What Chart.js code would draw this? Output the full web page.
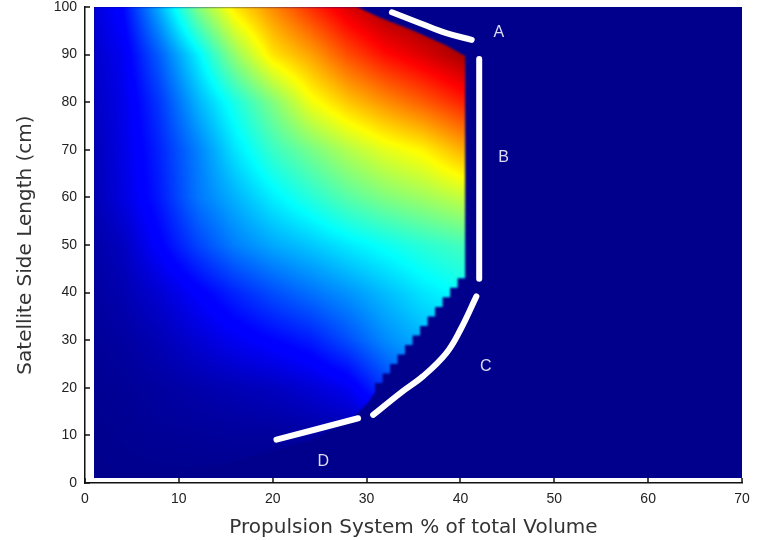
<!DOCTYPE html>
<html>
<head>
<meta charset="utf-8">
<script src="https://cdn.jsdelivr.net/npm/chart.js@4.4.1/dist/chart.umd.min.js"></script>
<style>
body { margin: 0; background: #fff; }
</style>
</head>
<body>
<canvas id="myChart" width="759" height="540"></canvas>
<script>

// colour map grid (0..1 on the jet scale)
var heatX = [0, 4, 8, 12, 16, 20, 24, 28, 32, 36, 40, 44];
var heatY = [0, 10, 20, 30, 40, 50, 60, 70, 80, 90, 100];
var heatV = [
    [0, 0, 0, 0, 0, 0, 0, 0.005, 0.01, 0.02, 0.03, 0.03],
    [0, 0.005, 0.01, 0.012, 0.015, 0.015, 0.02, 0.025, 0.04, 0.08, 0.1, 0.1],
    [0.005, 0.01, 0.02, 0.03, 0.04, 0.05, 0.07, 0.1, 0.18, 0.25, 0.27, 0.28],
    [0.01, 0.02, 0.04, 0.07, 0.1, 0.125, 0.15, 0.2, 0.26, 0.3, 0.32, 0.33],
    [0.015, 0.035, 0.07, 0.115, 0.16, 0.2, 0.235, 0.27, 0.31, 0.35, 0.38, 0.39],
    [0.02, 0.05, 0.12, 0.19, 0.25, 0.29, 0.32, 0.355, 0.385, 0.415, 0.44, 0.45],
    [0.025, 0.08, 0.15, 0.24, 0.3, 0.36, 0.41, 0.46, 0.5, 0.53, 0.565, 0.58],
    [0.03, 0.085, 0.16, 0.25, 0.35, 0.43, 0.49, 0.55, 0.6, 0.635, 0.7, 0.72],
    [0.04, 0.09, 0.18, 0.3, 0.4, 0.5, 0.61, 0.68, 0.735, 0.785, 0.84, 0.86],
    [0.05, 0.1, 0.22, 0.36, 0.52, 0.65, 0.715, 0.8, 0.865, 0.91, 0.96, 0.97],
    [0.06, 0.125, 0.3, 0.5, 0.65, 0.74, 0.83, 0.91, 0.97, 1, 1, 1]
];

// extent of the image
var imageX = [1, 70];
var imageY = [1, 100];

// edge of the coloured region
var topEdge = [[29, 100], [31.4, 97.8], [35, 95], [38.5, 91.9], [40.5, 89.7]];
var sideEdgeX = 40.5;
var stepTopY = [43, 41, 39, 37, 35, 33, 31, 29, 27, 25, 23, 21];
var stepX = [39.7, 38.9, 38.1, 37.3, 36.5, 35.7, 34.9, 34.1, 33.3, 32.5, 31.7, 30.9];
var lowEdge = [[30.9, 19], [30.2, 17], [28.5, 13.5], [24, 9], [15, 4], [1, 1]];

// white marks and their letters
var curveA = [[32.7, 98.9], [35.7, 96.6], [38.5, 94.5], [41.2, 93.1]];
var curveB = [[42, 89.1], [42, 42.9]];
var curveC = [[41.7, 39.2], [40, 32.2], [38.5, 27.3], [36, 22.4], [33.6, 18.9], [30.7, 14.3]];
var curveD = [[20.4, 9.1], [29.1, 13.6]];
var markText = ['A', 'B', 'C', 'D'];
var markX = [44.1, 44.6, 42.7, 25.4];
var markY = [94.7, 68.4, 24.4, 4.6];

function clamp01(v) {
    return Math.max(0, Math.min(1, v));
}

function jet(v) {
    v = clamp01(v);
    var r = Math.min(4 * v - 1.5, -4 * v + 4.5);
    var g = Math.min(4 * v - 0.5, -4 * v + 3.5);
    var b = Math.min(4 * v + 0.55, -4 * v + 2.5);
    return [Math.round(clamp01(r) * 255), Math.round(clamp01(g) * 255), Math.round(clamp01(b) * 255)];
}

function findCell(arr, v) {
    for (var k = 0; k < arr.length - 2; k++) {
        if (v < arr[k + 1]) return k;
    }
    return arr.length - 2;
}

function gridValue(x, y) {
    var i = findCell(heatX, x), j = findCell(heatY, y);
    var tx = clamp01((x - heatX[i]) / (heatX[i + 1] - heatX[i]));
    var ty = clamp01((y - heatY[j]) / (heatY[j + 1] - heatY[j]));
    var a = heatV[j][i] * (1 - tx) + heatV[j][i + 1] * tx;
    var b = heatV[j + 1][i] * (1 - tx) + heatV[j + 1][i + 1] * tx;
    return a * (1 - ty) + b * ty;
}

var heatmapPlugin = {
    id: 'heatmap',
    beforeDatasetsDraw: function(chart) {
        var ctx = chart.ctx, sx = chart.scales.x, sy = chart.scales.y;
        var left = Math.round(sx.getPixelForValue(imageX[0]));
        var right = Math.round(sx.getPixelForValue(imageX[1]));
        var top = Math.round(sy.getPixelForValue(imageY[1]));
        var bottom = Math.round(sy.getPixelForValue(imageY[0]));
        var c0 = jet(0);
        var w = right - left, h = bottom - top;

        ctx.save();
        ctx.fillStyle = 'rgb(' + c0.join(',') + ')';
        ctx.fillRect(left, top, w, h);

        // smooth field, pixel by pixel from the grid
        var off = document.createElement('canvas');
        off.width = w;
        off.height = h;
        var octx = off.getContext('2d');
        var img = octx.createImageData(w, h);
        for (var j = 0; j < h; j++) {
            var yv = sy.getValueForPixel(top + j + 0.5);
            for (var i = 0; i < w; i++) {
                var xv = sx.getValueForPixel(left + i + 0.5);
                var c = jet(gridValue(xv, yv));
                var p = (j * w + i) * 4;
                img.data[p] = c[0];
                img.data[p + 1] = c[1];
                img.data[p + 2] = c[2];
                img.data[p + 3] = 255;
            }
        }
        octx.putImageData(img, 0, 0);

        // keep only the coloured region
        var masked = document.createElement('canvas');
        masked.width = w;
        masked.height = h;
        var mctx = masked.getContext('2d');
        function px(v) { return sx.getPixelForValue(v) - left; }
        function py(v) { return sy.getPixelForValue(v) - top; }
        mctx.beginPath();
        mctx.moveTo(px(1), py(1));
        mctx.lineTo(px(1), py(100));
        topEdge.forEach(function(p) { mctx.lineTo(px(p[0]), py(p[1])); });
        mctx.lineTo(px(sideEdgeX), py(stepTopY[0]));
        for (var k = 0; k < stepX.length; k++) {
            mctx.lineTo(px(stepX[k]), py(stepTopY[k]));
            mctx.lineTo(px(stepX[k]), py(stepTopY[k] - 2));
        }
        lowEdge.forEach(function(p) { mctx.lineTo(px(p[0]), py(p[1])); });
        mctx.closePath();
        mctx.clip();
        mctx.drawImage(off, 0, 0);

        ctx.beginPath();
        ctx.rect(left, top, w, h);
        ctx.clip();
        ctx.filter = 'blur(0.8px)';
        ctx.drawImage(masked, left, top);
        ctx.restore();
    },
    afterDatasetsDraw: function(chart) {
        var ctx = chart.ctx, sx = chart.scales.x, sy = chart.scales.y;
        ctx.save();
        ctx.fillStyle = '#dcdcf2';
        ctx.font = '16px "Liberation Sans", Arial, sans-serif';
        ctx.textAlign = 'center';
        ctx.textBaseline = 'middle';
        for (var k = 0; k < markText.length; k++) {
            ctx.fillText(markText[k], sx.getPixelForValue(markX[k]), sy.getPixelForValue(markY[k]));
        }
        ctx.restore();
    },
    afterDraw: function(chart) {
        // inward tick marks
        var ctx = chart.ctx, sx = chart.scales.x, sy = chart.scales.y;
        var x0 = chart.chartArea.left, y0 = chart.chartArea.bottom;
        ctx.save();
        ctx.strokeStyle = '#111';
        ctx.lineWidth = 1.5;
        ctx.beginPath();
        sx.ticks.forEach(function(t) {
            var p = Math.round(sx.getPixelForValue(t.value));
            ctx.moveTo(p, y0);
            ctx.lineTo(p, y0 - 5);
        });
        sy.ticks.forEach(function(t) {
            var p = Math.round(sy.getPixelForValue(t.value));
            ctx.moveTo(x0, p);
            ctx.lineTo(x0 + 5, p);
        });
        ctx.stroke();
        ctx.restore();
    }
};

function toPoints(arr) {
    return arr.map(function(p) { return {x: p[0], y: p[1]}; });
}

function markLine(arr) {
    return {
        data: toPoints(arr),
        showLine: true,
        borderColor: '#ffffff',
        borderWidth: 6,
        borderCapStyle: 'round',
        borderJoinStyle: 'round',
        pointRadius: 0,
        tension: 0.4,
        fill: false
    };
}

var tickFont = { family: '"Liberation Sans", Arial, sans-serif', size: 14 };
var titleFont = { family: '"DejaVu Sans", sans-serif', size: 20 };

var ctx = document.getElementById('myChart').getContext('2d');
var chart = new Chart(ctx, {
    type: 'scatter',
    data: {
        datasets: [markLine(curveA), markLine(curveB), markLine(curveC), markLine(curveD)]
    },
    options: {
        responsive: false,
        animation: false,
        layout: { padding: { top: 7, right: 17, left: 0, bottom: 0 } },
        plugins: {
            legend: { display: false },
            tooltip: { enabled: false }
        },
        scales: {
            x: {
                type: 'linear',
                min: 0,
                max: 70,
                afterFit: function(s) {
                    s.height = 57;
                    s.paddingLeft = 0;
                    s.paddingRight = 0;
                },
                grid: { display: false, drawTicks: false },
                border: { display: true, color: '#111', width: 1.5 },
                ticks: { stepSize: 10, padding: 8, color: '#222', font: tickFont },
                title: {
                    display: true,
                    text: 'Propulsion System % of total Volume',
                    color: '#333',
                    padding: { top: 0, bottom: 0 },
                    font: titleFont
                }
            },
            y: {
                type: 'linear',
                min: 0,
                max: 100,
                afterFit: function(s) {
                    s.width = 85;
                    s.paddingTop = 0;
                    s.paddingBottom = 0;
                },
                grid: { display: false, drawTicks: false },
                border: { display: true, color: '#111', width: 1.5 },
                ticks: { stepSize: 10, padding: 8, color: '#222', font: tickFont },
                title: {
                    display: true,
                    text: 'Satellite Side Length (cm)',
                    color: '#333',
                    padding: { top: 14, bottom: 0 },
                    font: titleFont
                }
            }
        }
    },
    plugins: [heatmapPlugin]
});
</script>
</body>
</html>
